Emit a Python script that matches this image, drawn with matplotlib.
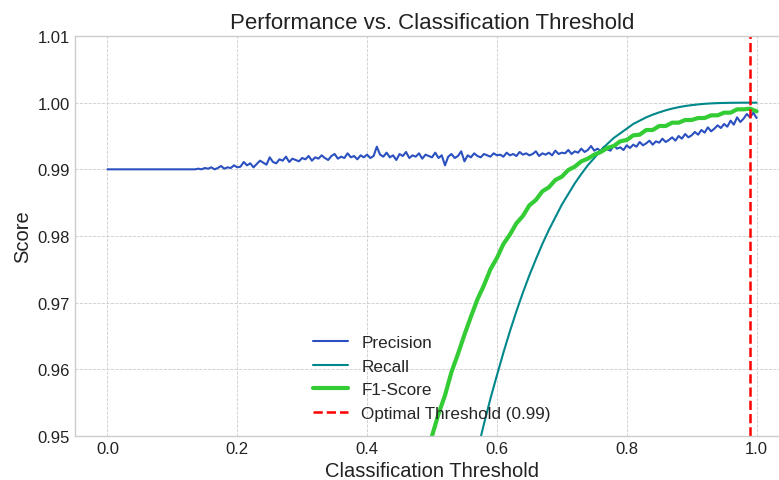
import numpy as np
import matplotlib
matplotlib.use("Agg")
from matplotlib import pyplot as plt

# thresholds for precision (step 0.005)
thr_p = np.round(np.arange(0, 201) * 0.005, 3)
precision = [0.9900] * 28 + [
    0.9901, 0.9900, 0.9902, 0.9901, 0.9903, 0.9900, 0.9902, 0.9905, 0.9901, 0.9903,
    0.9902, 0.9906, 0.9903,
    0.9904, 0.9911, 0.9906, 0.9909, 0.9903, 0.9908, 0.9913, 0.9910, 0.9907, 0.9918,
    0.9911, 0.9909, 0.9915, 0.9913, 0.9919, 0.9911, 0.9916, 0.9914, 0.9912, 0.9917,
    0.9915, 0.9920, 0.9913, 0.9918, 0.9916, 0.9921, 0.9917, 0.9914, 0.9920, 0.9923,
    0.9916, 0.9919, 0.9917, 0.9924, 0.9918, 0.9920, 0.9915, 0.9921, 0.9918, 0.9922,
    0.9917, 0.9920, 0.9934, 0.9922, 0.9919, 0.9925, 0.9918, 0.9921, 0.9914, 0.9923,
    0.9920, 0.9926, 0.9917, 0.9921, 0.9919, 0.9924, 0.9916, 0.9922, 0.9920, 0.9918,
    0.9925, 0.9917, 0.9921, 0.9906, 0.9919, 0.9923, 0.9917, 0.9920, 0.9927, 0.9912,
    0.9921, 0.9918, 0.9924, 0.9920, 0.9918, 0.9923, 0.9921, 0.9919, 0.9924, 0.9921,
    0.9922, 0.9919, 0.9925, 0.9921, 0.9923, 0.9920, 0.9926, 0.9922, 0.9924, 0.9921,
    0.9923, 0.9927, 0.9920, 0.9924, 0.9922, 0.9925, 0.9921, 0.9928, 0.9923, 0.9925,
    0.9924, 0.9929, 0.9923, 0.9927, 0.9925, 0.9931, 0.9926, 0.9929, 0.9935, 0.9928,
    0.9931, 0.9927, 0.9934, 0.9930, 0.9928, 0.9936, 0.9931, 0.9933, 0.9929, 0.9936,
    0.9932, 0.9937, 0.9934, 0.9941, 0.9936, 0.9939, 0.9943, 0.9937, 0.9942, 0.9940,
    0.9946, 0.9941, 0.9944, 0.9948, 0.9943, 0.9950, 0.9946, 0.9953, 0.9948, 0.9951,
    0.9956, 0.9952, 0.9959, 0.9955, 0.9963, 0.9957, 0.9961, 0.9966, 0.9962, 0.9968,
    0.9964, 0.9973, 0.9967, 0.9978, 0.9971, 0.9976, 0.9983, 0.9978, 0.9985, 0.9977,
]

# recall (step 0.01 from 0.56)
thr_r = np.round(np.arange(56, 101) * 0.01, 2)
recall = [
    0.9436, 0.9478, 0.9518, 0.9556, 0.9591, 0.9625, 0.9657, 0.9687, 0.9715, 0.9741,
    0.9765, 0.9788, 0.9809, 0.9828, 0.9847, 0.9863, 0.9879, 0.9893, 0.9906, 0.9917,
    0.9928, 0.9938, 0.9947, 0.9954, 0.9961, 0.9968, 0.9973, 0.9978, 0.9982, 0.99854,
    0.99885, 0.99911, 0.99932, 0.9995, 0.99963, 0.99974, 0.99983, 0.99989, 0.99993, 0.99996,
    0.99998, 0.99999, 1.0, 1.0, 1.0,
]

# f1 (step 0.01 from 0.49)
thr_f = np.round(np.arange(49, 101) * 0.01, 2)
f1 = [
    0.9468, 0.9500, 0.9533, 0.9561, 0.9596, 0.9623, 0.9652, 0.9679, 0.9705, 0.9726,
    0.9750, 0.9767, 0.9788, 0.9802, 0.9819, 0.9830, 0.9846, 0.9854, 0.9867, 0.9873,
    0.9884, 0.9889, 0.9899, 0.9904, 0.9912, 0.9916, 0.9922, 0.9926, 0.9932, 0.9935,
    0.9942, 0.9944, 0.9951, 0.9952, 0.9959, 0.9959, 0.9965, 0.9965, 0.9970, 0.9970,
    0.9974, 0.9974, 0.9977, 0.9977, 0.9981, 0.9981, 0.9985, 0.9985, 0.9990, 0.9990,
    0.9991, 0.9987,
]

best_thr = 0.99

plt.style.use('seaborn-v0_8-whitegrid')
plt.rcParams['font.family'] = ['Liberation Sans', 'DejaVu Sans']

fig = plt.figure(figsize=(7.79, 4.81), dpi=100)
ax = fig.add_axes([75 / 779, 44 / 481, 714 / 779, 400 / 481])

ax.plot(thr_p, precision, color='#2b50c0', lw=1.5, label='Precision')
ax.plot(thr_r, recall, color='#00878a', lw=1.5, label='Recall')
ax.plot(thr_f, f1, color='#34cc34', lw=3, label='F1-Score')
ax.axvline(best_thr, color='red', ls='--', lw=1.8, label='Optimal Threshold ({:.2f})'.format(best_thr))

ax.set_xlim(-0.05, 1.05)
ax.set_ylim(0.95, 1.01)
ax.set_xticks([0.0, 0.2, 0.4, 0.6, 0.8, 1.0])
ax.set_yticks([0.95, 0.96, 0.97, 0.98, 0.99, 1.00, 1.01])
ax.yaxis.set_major_formatter(matplotlib.ticker.FormatStrFormatter('%.2f'))
ax.tick_params(labelsize=12, labelcolor='#222222')
ax.grid(True, ls='--', lw=0.6, color='#cccccc')
for s in ax.spines.values():
    s.set_color('#cccccc')

ax.set_title('Performance vs. Classification Threshold', fontsize=16, color='#222222')
ax.set_xlabel('Classification Threshold', fontsize=14.5, color='#222222')
ax.set_ylabel('Score', fontsize=14.5, color='#222222')
ax.legend(loc='lower center', fontsize=12.3, frameon=False)

plt.savefig('out.png', dpi=100)
